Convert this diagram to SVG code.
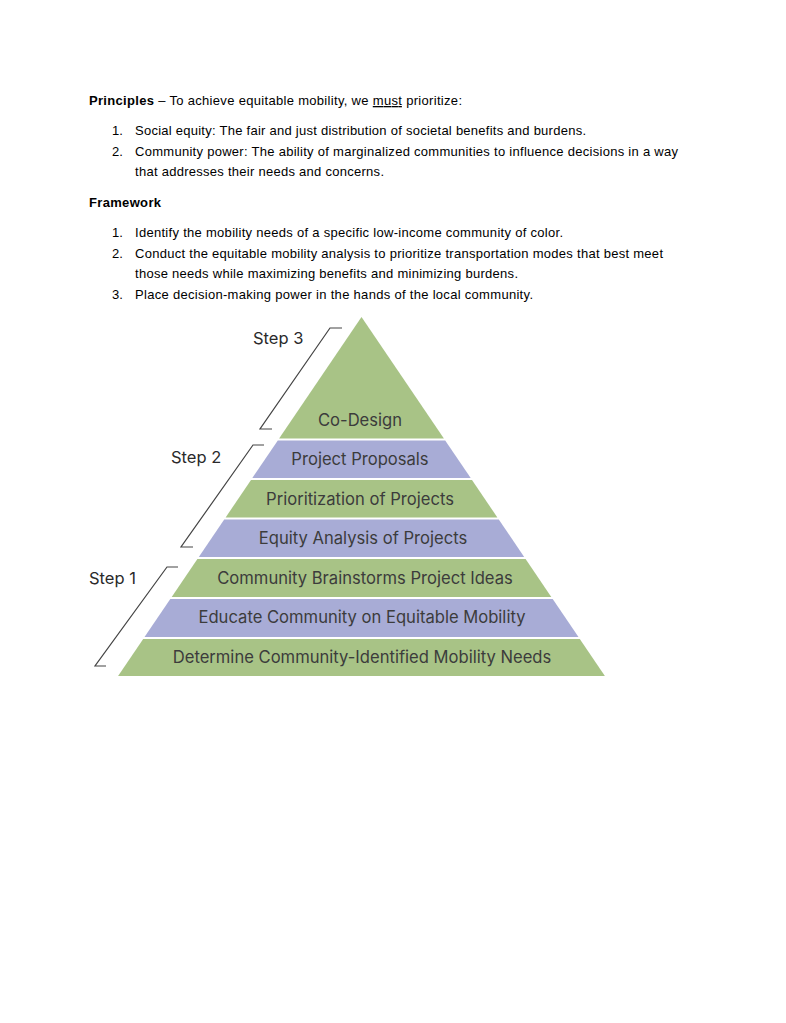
<svg xmlns="http://www.w3.org/2000/svg" width="786" height="1023" viewBox="0 0 786 1023">
<style>
.doc{font-family:"Liberation Sans",Arial,sans-serif;font-size:13px;fill:#000}
.b{font-weight:bold}
.g{fill:#a8c386}
.p{fill:#a8acd6}
.lbl{font-family:Inter,"Noto Sans",sans-serif;font-size:16.6px;fill:#3c3c3c;text-anchor:middle}
.step{font-family:Inter,"Noto Sans",sans-serif;font-size:16.5px;fill:#2a2a2a}
.br{fill:none;stroke:#444;stroke-width:1.2}
</style>
<rect width="786" height="1023" fill="#fff"/>
<g id="text">
<text class="doc" x="89" y="105" textLength="373" lengthAdjust="spacing"><tspan class="b">Principles</tspan> – To achieve equitable mobility, we <tspan text-decoration="underline">must</tspan> prioritize:</text>
<text class="doc" x="112" y="135">1.</text>
<text class="doc" x="135" y="135" textLength="451" lengthAdjust="spacing">Social equity: The fair and just distribution of societal benefits and burdens.</text>
<text class="doc" x="112" y="156">2.</text>
<text class="doc" x="135" y="156" textLength="543" lengthAdjust="spacing">Community power: The ability of marginalized communities to influence decisions in a way</text>
<text class="doc" x="135" y="176" textLength="249" lengthAdjust="spacing">that addresses their needs and concerns.</text>
<text class="doc b" x="89" y="207" textLength="72" lengthAdjust="spacing">Framework</text>
<text class="doc" x="112" y="237">1.</text>
<text class="doc" x="135" y="237" textLength="428" lengthAdjust="spacing">Identify the mobility needs of a specific low-income community of color.</text>
<text class="doc" x="112" y="258">2.</text>
<text class="doc" x="135" y="258" textLength="528" lengthAdjust="spacing">Conduct the equitable mobility analysis to prioritize transportation modes that best meet</text>
<text class="doc" x="135" y="278" textLength="383" lengthAdjust="spacing">those needs while maximizing benefits and minimizing burdens.</text>
<text class="doc" x="112" y="299">3.</text>
<text class="doc" x="135" y="299" textLength="398" lengthAdjust="spacing">Place decision-making power in the hands of the local community.</text>
</g>
<g id="layer-codesign">
<polygon class="g" points="361.5,317 443.9,438.5 279.1,438.5"/>
<text class="lbl" x="360" y="426">Co-Design</text>
</g>
<g id="layer-proposals">
<polygon class="p" points="277.8,440.5 445.2,440.5 470.7,478 252.3,478"/>
<text class="lbl" x="360" y="465">Project Proposals</text>
</g>
<g id="layer-prioritization">
<polygon class="g" points="251,480 472,480 497.4,517.5 225.6,517.5"/>
<text class="lbl" x="360" y="505">Prioritization of Projects</text>
</g>
<g id="layer-equity">
<polygon class="p" points="224.2,519.5 498.8,519.5 524.2,557 198.8,557"/>
<text class="lbl" x="363" y="544">Equity Analysis of Projects</text>
</g>
<g id="layer-brainstorm">
<polygon class="g" points="197.4,559 525.6,559 551.3,597 171.7,597"/>
<text class="lbl" x="365" y="584">Community Brainstorms Project Ideas</text>
</g>
<g id="layer-educate">
<polygon class="p" points="170.3,599 552.7,599 578.5,637 144.5,637"/>
<text class="lbl" x="362" y="623">Educate Community on Equitable Mobility</text>
</g>
<g id="layer-determine">
<polygon class="g" points="143.2,639 579.8,639 604.9,676 118.1,676"/>
<text class="lbl" x="362" y="663">Determine Community-Identified Mobility Needs</text>
</g>
<g id="connectors">
<polyline class="br" points="342,328 330,328 260,429 272,429"/>
<polyline class="br" points="264,445 253,445 181,547 193,547"/>
<polyline class="br" points="178,567 167,567 95,666 106,666"/>
</g>
<g id="step-labels">
<text class="step" x="253" y="344">Step 3</text>
<text class="step" x="171" y="463">Step 2</text>
<text class="step" x="89" y="584">Step 1</text>
</g>
</svg>
